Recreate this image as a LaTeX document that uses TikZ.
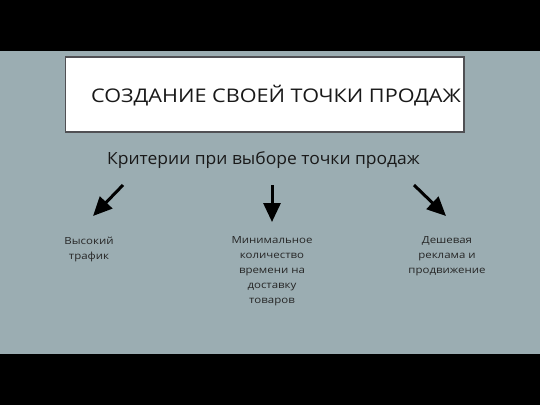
\documentclass[tikz,border=0pt]{standalone}
\usepackage{fontspec}
\setmainfont{Open Sans}
\newfontfamily\titlesans[FakeStretch=1.15]{Open Sans}
\newfontfamily\widesans[FakeStretch=1.17]{Open Sans}
\newfontfamily\midsans[FakeStretch=1.04]{Open Sans}
\usetikzlibrary{arrows.meta}
\definecolor{slidebg}{RGB}{155,173,178}
\definecolor{boxline}{RGB}{80,80,84}
\tikzset{
        titlebox/.style={draw=boxline, line width=1.4pt, fill=white},
        titletext/.style={anchor=base west, inner sep=0pt, text=black!90, font=\titlesans\fontsize{18.8}{22}\selectfont},
        subtitle/.style={anchor=base west, inner sep=0pt, text=black!90, font=\midsans\fontsize{16.8}{20}\selectfont},
        criterion/.style={anchor=north, inner sep=0pt, align=center, text=black!85, font=\widesans\fontsize{9.8}{15}\selectfont},
        pointer/.style={-{Triangle[length=19pt,width=17pt]}, line width=3pt, black}
          }
\begin{document}
\begin{tikzpicture}[x=1pt,y=-1pt]
            % slide with black bars
            \fill[black] (0,0) rectangle (540,405);
            \fill[slidebg] (0,50.5) rectangle (540,354);
            \useasboundingbox (0,0) rectangle (540,405);
            % title
            \draw[titlebox] (65.5,57) rectangle (464,132);
            \node[titletext] (title) at (91,102) {СОЗДАНИЕ СВОЕЙ ТОЧКИ ПРОДАЖ};
            \node[subtitle] (criteria) at (107,164) {Критерии при выборе точки продаж};
            % arrows
            \coordinate (lefttail) at (123,185);
            \coordinate (lefttip) at (93,216);
            \coordinate (midtail) at (272,185);
            \coordinate (midtip) at (272,222);
            \coordinate (righttail) at (414,185);
            \coordinate (righttip) at (446,216);
            \draw[pointer] (lefttail) -- (lefttip);
            \draw[pointer] (midtail) -- (midtip);
            \draw[pointer] (righttail) -- (righttip);
            % criteria
            \node[criterion] (traffic) at (89,236.5) {Высокий\\трафик};
            \node[criterion] (delivery) at (272,236.5) {Минимальное\\количество\\времени на\\доставку\\товаров};
            \node[criterion] (advert) at (447,236.5) {Дешевая\\реклама и\\продвижение};
\end{tikzpicture}
\end{document}
